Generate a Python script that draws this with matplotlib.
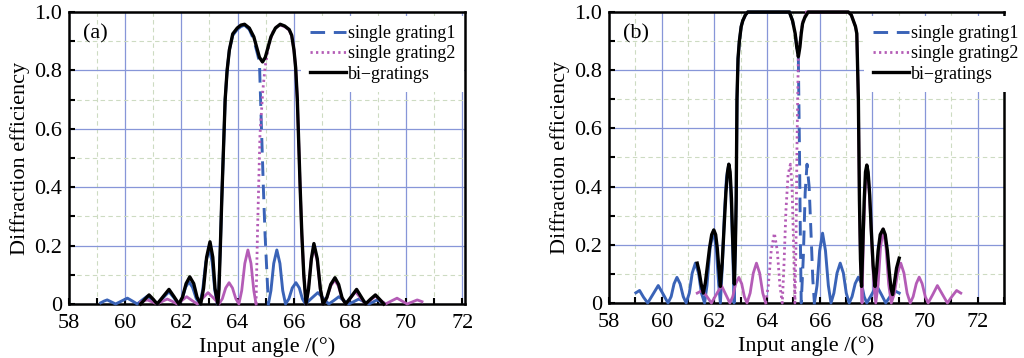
import matplotlib
matplotlib.use('Agg')
import matplotlib.pyplot as plt
import numpy as np
from matplotlib.ticker import MultipleLocator, FuncFormatter

plt.rcParams['font.family'] = ['Liberation Serif', 'DejaVu Serif']

# (angle, efficiency) points

# ---------------- panel (a) ----------------
a_bi = [(60.55, 0), (60.70, 0.016), (60.85, 0.031), (61.00, 0.016), (61.14, 0),
        (61.35, 0.025), (61.56, 0.05), (61.74, 0.025), (61.91, 0),
        (62.04, 0.023), (62.17, 0.07), (62.30, 0.093), (62.44, 0.07), (62.56, 0.023), (62.69, 0),
        (62.79, 0.053), (62.90, 0.16), (63.02, 0.213), (63.12, 0.16), (63.20, 0.053), (63.30, 0),
        (63.34, 0.05), (63.39, 0.20), (63.44, 0.36), (63.50, 0.53), (63.56, 0.70), (63.63, 0.80), (63.71, 0.87),
        (63.83, 0.925), (63.99, 0.945), (64.12, 0.955), (64.25, 0.958), (64.42, 0.945), (64.58, 0.915), (64.68, 0.88),
        (64.78, 0.845), (64.89, 0.829), (64.99, 0.845), (65.09, 0.88), (65.19, 0.915), (65.35, 0.945), (65.52, 0.958),
        (65.68, 0.952), (65.84, 0.94), (65.93, 0.92), (66.01, 0.87), (66.07, 0.81), (66.13, 0.70), (66.17, 0.58),
        (66.23, 0.40), (66.29, 0.24), (66.36, 0.10), (66.44, 0),
        (66.53, 0.052), (66.63, 0.155), (66.72, 0.207), (66.84, 0.155), (66.95, 0.052), (67.05, 0),
        (67.18, 0.022), (67.32, 0.067), (67.47, 0.09), (67.60, 0.067), (67.72, 0.022), (67.85, 0),
        (68.05, 0.025), (68.24, 0.05), (68.40, 0.025), (68.56, 0),
        (68.73, 0.016), (68.91, 0.031), (69.06, 0.016), (69.21, 0)]

a_g1 = [(59.13, 0.004), (59.25, 0.01), (59.36, 0.014), (59.51, 0.007), (59.66, 0),
        (59.87, 0.01), (60.08, 0.02), (60.26, 0.01), (60.43, 0),
        (60.61, 0.014), (60.79, 0.027), (60.97, 0.014), (61.14, 0),
        (61.35, 0.021), (61.56, 0.042), (61.74, 0.021), (61.91, 0),
        (62.03, 0.019), (62.15, 0.057), (62.27, 0.076), (62.40, 0.057), (62.53, 0.019), (62.66, 0),
        (62.76, 0.048), (62.87, 0.143), (63.00, 0.19), (63.10, 0.143), (63.19, 0.048), (63.28, 0),
        (63.33, 0.05), (63.39, 0.20), (63.44, 0.36), (63.50, 0.53), (63.56, 0.70), (63.63, 0.80), (63.71, 0.87),
        (63.83, 0.92), (63.99, 0.94), (64.12, 0.95), (64.25, 0.955), (64.42, 0.94), (64.58, 0.905), (64.70, 0.86),
        (64.78, 0.83), (64.86, 0.58), (64.92, 0.40), (64.98, 0.24), (65.10, 0),
        (65.19, 0.046), (65.29, 0.139), (65.40, 0.185), (65.51, 0.139), (65.61, 0.046), (65.71, 0),
        (65.83, 0.018), (65.95, 0.055), (66.08, 0.073), (66.20, 0.055), (66.31, 0.018), (66.42, 0),
        (66.64, 0.02), (66.86, 0.039), (67.05, 0.02), (67.25, 0),
        (67.43, 0.012), (67.61, 0.025), (67.78, 0.012), (67.96, 0),
        (68.14, 0.008), (68.32, 0.017), (68.50, 0.008), (68.68, 0),
        (68.83, 0.007), (68.97, 0.014), (69.20, 0.004)]

a_g2 = [(60.55, 0.006), (60.67, 0.011), (60.79, 0.014), (60.97, 0.007), (61.14, 0),
        (61.32, 0.009), (61.50, 0.017), (61.68, 0.009), (61.85, 0),
        (62.02, 0.012), (62.19, 0.025), (62.38, 0.012), (62.57, 0),
        (62.76, 0.02), (62.95, 0.039), (63.15, 0.02), (63.34, 0),
        (63.46, 0.018), (63.58, 0.055), (63.70, 0.073), (63.82, 0.055), (63.94, 0.018), (64.05, 0),
        (64.15, 0.046), (64.26, 0.139), (64.37, 0.185), (64.48, 0.139), (64.58, 0.046), (64.66, 0),
        (64.71, 0.24), (64.80, 0.58), (64.90, 0.73), (64.98, 0.81), (65.10, 0.88), (65.25, 0.93), (65.40, 0.95),
        (65.52, 0.955), (65.68, 0.95), (65.84, 0.938), (65.93, 0.918), (66.01, 0.87), (66.07, 0.81), (66.13, 0.70),
        (66.17, 0.58), (66.23, 0.40), (66.29, 0.24), (66.36, 0.10), (66.44, 0),
        (66.52, 0.049), (66.62, 0.147), (66.72, 0.196), (66.84, 0.147), (66.95, 0.049), (67.05, 0),
        (67.18, 0.02), (67.32, 0.062), (67.46, 0.082), (67.59, 0.062), (67.72, 0.02), (67.85, 0),
        (68.03, 0.021), (68.20, 0.042), (68.38, 0.021), (68.56, 0),
        (68.73, 0.013), (68.91, 0.027), (69.09, 0.013), (69.27, 0),
        (69.47, 0.01), (69.68, 0.02), (69.86, 0.01), (70.04, 0),
        (70.22, 0.007), (70.40, 0.014), (70.57, 0.008)]

# ---------------- panel (b) ----------------
b_bi = [(61.35, 0.137), (61.42, 0.11), (61.50, 0.065), (61.58, 0.034),
        (61.66, 0.07), (61.74, 0.13), (61.82, 0.19), (61.90, 0.235), (61.98, 0.251), (62.05, 0.235), (62.11, 0.19),
        (62.17, 0.12), (62.23, 0.057),
        (62.30, 0.14), (62.37, 0.26), (62.44, 0.38), (62.50, 0.45), (62.55, 0.477), (62.60, 0.45), (62.65, 0.36),
        (62.70, 0.21), (62.76, 0.065),
        (62.80, 0.20), (62.83, 0.354), (62.86, 0.70), (62.90, 0.84), (62.95, 0.90), (63.02, 0.95), (63.08, 0.97),
        (63.18, 0.99), (63.27, 1.0),
        (64.85, 1.0), (64.97, 0.97), (65.07, 0.926), (65.13, 0.88), (65.19, 0.846), (65.25, 0.88), (65.30, 0.926),
        (65.35, 0.96), (65.43, 0.98), (65.56, 1.0),
        (67.09, 1.0), (67.20, 0.99), (67.28, 0.97), (67.36, 0.95), (67.41, 0.926), (67.47, 0.70), (67.51, 0.354),
        (67.55, 0.15), (67.59, 0.057),
        (67.64, 0.20), (67.69, 0.35), (67.74, 0.45), (67.79, 0.474), (67.84, 0.45), (67.90, 0.37), (67.96, 0.25),
        (68.03, 0.13), (68.10, 0.057),
        (68.16, 0.11), (68.22, 0.18), (68.30, 0.235), (68.41, 0.254), (68.49, 0.235), (68.57, 0.18), (68.65, 0.10),
        (68.71, 0.05), (68.77, 0.029),
        (68.84, 0.07), (68.92, 0.12), (69.02, 0.154)]

b_g1 = [(59.02, 0.035), (59.16, 0.043), (59.31, 0.02), (59.47, 0),
        (59.67, 0.03), (59.87, 0.06), (60.06, 0.03), (60.24, 0),
        (60.36, 0.022), (60.47, 0.066), (60.58, 0.088), (60.70, 0.066), (60.82, 0.022), (60.93, 0),
        (61.05, 0.034), (61.16, 0.103), (61.28, 0.137), (61.40, 0.103), (61.51, 0.034), (61.63, 0),
        (61.72, 0.06), (61.84, 0.19), (61.97, 0.25), (62.08, 0.18), (62.16, 0.07), (62.23, 0),
        (62.30, 0.12), (62.38, 0.30), (62.46, 0.43), (62.55, 0.477), (62.62, 0.40), (62.68, 0.24), (62.75, 0),
        (62.80, 0.20), (62.83, 0.354), (62.86, 0.70), (62.90, 0.84), (62.95, 0.90), (63.02, 0.95), (63.08, 0.97),
        (63.18, 0.99), (63.27, 1.0),
        (64.85, 1.0), (64.97, 0.97), (65.07, 0.926), (65.13, 0.88), (65.19, 0.846), (65.23, 0.55), (65.27, 0.20),
        (65.30, 0),
        (65.38, 0.16), (65.45, 0.38), (65.52, 0.477), (65.60, 0.40), (65.68, 0.22), (65.74, 0.08), (65.80, 0),
        (65.90, 0.06), (66.00, 0.18), (66.11, 0.24), (66.22, 0.18), (66.33, 0.06), (66.43, 0),
        (66.54, 0.034), (66.66, 0.103), (66.78, 0.137), (66.90, 0.103), (67.01, 0.034), (67.12, 0),
        (67.23, 0.022), (67.35, 0.067), (67.47, 0.089), (67.59, 0.067), (67.69, 0.022), (67.79, 0),
        (67.98, 0.03), (68.16, 0.06), (68.34, 0.03), (68.51, 0),
        (68.67, 0.022), (68.83, 0.043), (69.02, 0.034)]

b_g2 = [(61.35, 0.034), (61.54, 0.043), (61.72, 0.022), (61.89, 0),
        (62.08, 0.03), (62.27, 0.06), (62.43, 0.03), (62.59, 0),
        (62.70, 0.022), (62.81, 0.066), (62.93, 0.088), (63.04, 0.066), (63.14, 0.022), (63.24, 0),
        (63.36, 0.034), (63.48, 0.103), (63.60, 0.137), (63.72, 0.103), (63.84, 0.034), (63.95, 0),
        (64.05, 0.06), (64.16, 0.18), (64.28, 0.24), (64.39, 0.18), (64.49, 0.06), (64.58, 0),
        (64.64, 0.12), (64.72, 0.32), (64.80, 0.44), (64.89, 0.477), (64.95, 0.40), (65.01, 0.20), (65.06, 0),
        (65.10, 0.20), (65.14, 0.55), (65.19, 0.846), (65.23, 0.88), (65.29, 0.926), (65.37, 0.97), (65.50, 1.0),
        (67.09, 1.0), (67.20, 0.99), (67.28, 0.97), (67.36, 0.95), (67.41, 0.926), (67.47, 0.70), (67.51, 0.354),
        (67.55, 0.15), (67.61, 0),
        (67.66, 0.22), (67.72, 0.38), (67.79, 0.474), (67.86, 0.42), (67.93, 0.30), (68.00, 0.16), (68.06, 0.06),
        (68.13, 0),
        (68.22, 0.064), (68.31, 0.19), (68.41, 0.254), (68.52, 0.19), (68.62, 0.064), (68.72, 0),
        (68.84, 0.034), (68.96, 0.103), (69.08, 0.137), (69.20, 0.103), (69.32, 0.034), (69.44, 0),
        (69.55, 0.022), (69.67, 0.067), (69.78, 0.089), (69.89, 0.067), (70.01, 0.022), (70.12, 0),
        (70.30, 0.03), (70.47, 0.06), (70.66, 0.03), (70.85, 0),
        (71.02, 0.022), (71.20, 0.043), (71.36, 0.034)]

labels = ['single grating1', 'single grating2', 'bi\u2212gratings']
blue = '#3a63b7'
magenta = '#b45cb6'


def split_plot(ax, pts, lo, hi, color, dashes, label, lw):
    # steep part drawn with the legend style, the low lobes look solid in the original
    x = np.array([p[0] for p in pts])
    y = np.array([p[1] for p in pts])
    inside = (x >= lo) & (x <= hi)
    outside = (x <= lo) | (x >= hi)
    ax.plot(x, np.where(outside, y, np.nan), color=color, lw=lw, solid_joinstyle='round', clip_on=False, zorder=3)
    ax.plot(x, np.where(inside, y, np.nan), color=color, lw=lw, dashes=dashes, label=label, clip_on=False, zorder=3)


def style(ax, xmax, tag, leg_x):
    ax.set_xlim(58, xmax)
    ax.set_ylim(0, 1.0)
    ax.xaxis.set_major_locator(MultipleLocator(2))
    ax.xaxis.set_minor_locator(MultipleLocator(1))
    ax.yaxis.set_major_locator(MultipleLocator(0.2))
    ax.yaxis.set_minor_locator(MultipleLocator(0.1))
    ax.yaxis.set_major_formatter(FuncFormatter(lambda v, p: '0' if abs(v) < 1e-9 else f'{v:.1f}'))
    ax.grid(which='major', color='#8796d8', lw=0.9)
    ax.grid(which='minor', color='#cddbc2', lw=0.8, ls=(0, (4, 3)))
    ax.set_axisbelow(True)
    ax.tick_params(which='both', direction='in', labelsize=16, width=1.5, length=4, color='black')
    ax.tick_params(axis='x', which='both', pad=7)
    ax.tick_params(axis='y', which='both', pad=5)
    for s in ax.spines.values():
        s.set_linewidth(1.8)
    ax.set_xlabel('Input angle /(\u00b0)', fontsize=16, labelpad=3)
    ax.set_ylabel('Diffraction efficiency', fontsize=16, labelpad=3)
    ax.text(0.035, 0.925, tag, transform=ax.transAxes, fontsize=16, va='center', ha='left')
    ax.legend(loc='upper left', bbox_to_anchor=(leg_x, 0.985), fontsize=13, frameon=True, facecolor='white',
              edgecolor='none', framealpha=1, fancybox=False, handlelength=2.0, handletextpad=0.1,
              labelspacing=0.17, borderpad=0.5, borderaxespad=0)


fig = plt.figure(figsize=(10.24, 3.58), dpi=100)
ax_a = fig.add_axes([69 / 1024, 54 / 358, 396 / 1024, 292 / 358])
ax_b = fig.add_axes([609 / 1024, 55 / 358, 395 / 1024, 291 / 358])

split_plot(ax_a, a_g1, 64.25, 65.10, blue, (5, 3), labels[0], 2.1)
split_plot(ax_a, a_g2, 64.66, 65.52, magenta, (0.8, 1.2), labels[1], 2.0)
ax_a.plot([p[0] for p in a_bi], [p[1] for p in a_bi], color='black', lw=2.4, label=labels[2],
          clip_on=False, zorder=4)
style(ax_a, 72.1, '(a)', 0.585)

split_plot(ax_b, b_g1, 64.85, 65.80, blue, (5, 3), labels[0], 2.1)
split_plot(ax_b, b_g2, 63.95, 65.50, magenta, (0.8, 1.2), labels[1], 2.0)
ax_b.plot([p[0] for p in b_bi], [p[1] for p in b_bi], color='black', lw=2.4, label=labels[2],
          clip_on=False, zorder=4)
style(ax_b, 73.0, '(b)', 0.645)

fig.savefig('out.png', dpi=100)
